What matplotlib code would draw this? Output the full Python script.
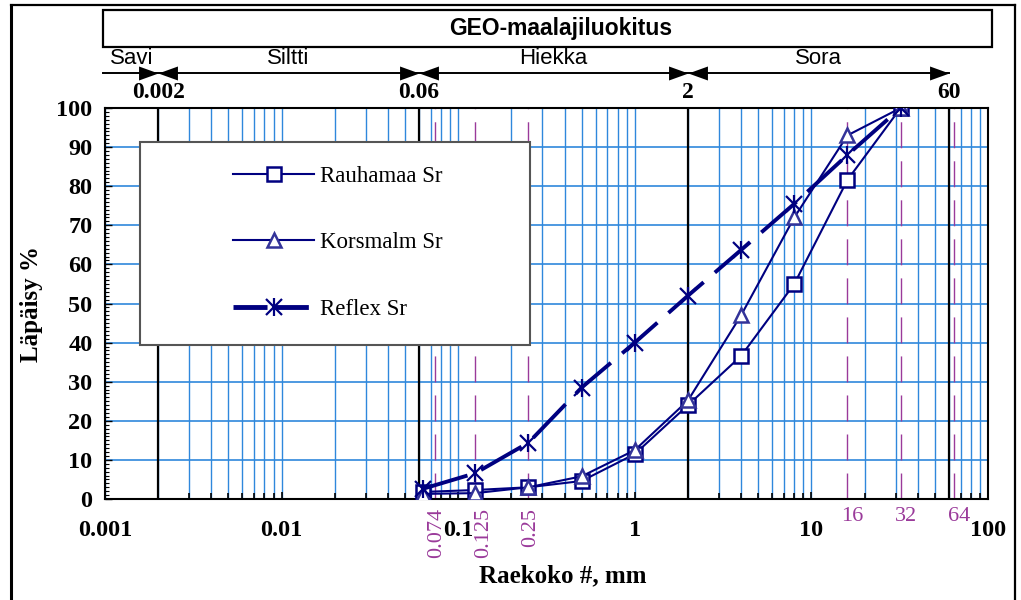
import matplotlib
matplotlib.use('Agg')
import matplotlib.pyplot as plt
from matplotlib.ticker import FixedLocator, NullFormatter, MultipleLocator, LogLocator
from matplotlib.lines import Line2D
from matplotlib.patches import Rectangle
from matplotlib.legend_handler import HandlerTuple
from matplotlib.transforms import ScaledTranslation
import numpy as np

# ---------------- data ----------------
sizes = [0.063, 0.125, 0.25, 0.5, 1, 2, 4, 8, 16, 32]
rauhamaa = [1.8, 2.3, 3.0, 4.6, 11.5, 24.0, 36.6, 55.0, 81.6, 100]
korsmalm = [1.3, 1.5, 3.0, 5.8, 12.5, 25.2, 47.0, 72.0, 93.0, 100]
reflex = [2.6, 6.6, 14.4, 28.5, 40.0, 52.0, 63.7, 75.5, 88.0, 100]
series_names = ['Rauhamaa Sr', 'Korsmalm Sr', 'Reflex Sr']

class_bounds = [0.002, 0.06, 2, 60]
class_names = ['Savi', 'Siltti', 'Hiekka', 'Sora']
sieve_marks = [0.074, 0.125, 0.25, 16, 32, 64]
sieve_labels = ['0.074', '0.125', '0.25', '16', '32', '64']
x_ticks = [0.001, 0.01, 0.1, 1, 10, 100]
x_ticklabels = ['0.001', '0.01', '0.1', '1', '10', '100']
y_ticks = list(range(0, 101, 10))

title = 'GEO-maalajiluokitus'
xlabel = 'Raekoko #, mm'
ylabel = 'Läpäisy %'

# ---------------- style ----------------
plt.rcParams['font.family'] = ['Liberation Serif', 'DejaVu Serif']
NAVY = '#000080'
TRI = '#333399'
GRID = '#2f88dc'
PURPLE = '#9a3a9a'
W, H = 1021, 600
TICKFS = 17.5

fig = plt.figure(figsize=(W / 100, H / 100), dpi=100)
ax = fig.add_axes([105 / W, 1 - 499 / H, (988 - 105) / W, (499 - 108) / H])

ax.set_xscale('log')
ax.set_xlim(0.001, 100)
ax.set_ylim(0, 100)

ax.xaxis.set_major_locator(FixedLocator(x_ticks))
ax.xaxis.set_minor_locator(LogLocator(base=10, subs=np.arange(2, 10), numticks=20))
ax.xaxis.set_minor_formatter(NullFormatter())
ax.set_xticks(x_ticks)
ax.set_xticklabels(x_ticklabels)
ax.set_yticks(y_ticks)
ax.set_yticklabels([str(v) for v in y_ticks])
ax.yaxis.set_minor_locator(MultipleLocator(1))

ax.tick_params(axis='x', which='both', direction='in', pad=15, colors='black',
               labelsize=TICKFS)
ax.tick_params(axis='x', which='major', length=5, width=1.2)
ax.tick_params(axis='x', which='minor', length=4, width=1.2)
ax.tick_params(axis='y', which='major', direction='in', length=5, width=1, pad=9,
               labelsize=TICKFS)
ax.tick_params(axis='y', which='minor', direction='in', length=3, width=0.8)
for lab in ax.get_xticklabels() + ax.get_yticklabels():
    lab.set_fontweight('bold')
for s in ax.spines.values():
    s.set_linewidth(1.5)
    s.set_color('black')

ax.set_axisbelow(True)
ax.grid(True, which='both', axis='x', color=GRID, lw=1.0)
ax.grid(True, which='major', axis='y', color=GRID, lw=1.2)

# class boundary lines
for b in class_bounds:
    ax.axvline(b, color='black', lw=1.6, zorder=1.5)
# sieve marks
for m in sieve_marks:
    ax.axvline(m, color=PURPLE, lw=1.0, dashes=(18.7, 9.4), zorder=1.6)

# sieve labels (purple)
tr = ax.get_xaxis_transform()
for m, lab in zip(sieve_marks, sieve_labels):
    if m < 1:
        dx = 8 if lab == '0.125' else 2
        t = tr + ScaledTranslation(dx / 100, 0, fig.dpi_scale_trans)
        ax.text(m, -0.023, lab, transform=t, rotation=90,
                ha='center', va='top', fontsize=16, color=PURPLE, clip_on=False)
    else:
        t = tr + ScaledTranslation(5 / 100, 0, fig.dpi_scale_trans)
        ax.text(m, -0.02, lab, transform=t,
                ha='center', va='top', fontsize=16, color=PURPLE, clip_on=False)

# data series
ax.plot(sizes, rauhamaa, color=NAVY, lw=1.5, marker='s', ms=10, mfc='white',
        mec=NAVY, mew=1.8, zorder=3)
ax.plot(sizes, korsmalm, color=NAVY, lw=1.5, marker='^', ms=10.5, mfc='white',
        mec=TRI, mew=1.8, zorder=3)
ax.plot(sizes, reflex, color=NAVY, lw=2.8, dashes=(12, 3.8), dashes_offset=0,
        zorder=3.2, solid_capstyle='butt', dash_capstyle='butt') if False else \
    ax.plot(sizes, reflex, color=NAVY, lw=2.8, dashes=(12, 3.8), zorder=3.2,
            solid_capstyle='butt', dash_capstyle='butt')
ax.plot(sizes, reflex, ls='none', marker='x', ms=11, mec=NAVY, mew=1.6, zorder=3.3)
ax.plot(sizes, reflex, ls='none', marker='|', ms=13, mec=NAVY, mew=1.6, zorder=3.3)

# axis labels
ax.set_xlabel(xlabel, fontsize=18, fontweight='bold', va='top')
ax.xaxis.set_label_coords((563 - 105) / 883, -(564 - 499) / 391)
ax.set_ylabel(ylabel, fontsize=18, fontweight='bold', va='center')
ax.yaxis.set_label_coords((32 - 105) / 883, 0.5)

# legend
h1 = Line2D([], [], color=NAVY, lw=1.5, marker='s', ms=10, mfc='white', mec=NAVY, mew=1.8)
h2 = Line2D([], [], color=NAVY, lw=1.5, marker='^', ms=10.5, mfc='white', mec=TRI, mew=1.8)
h3a = Line2D([], [], color=NAVY, lw=3.5, dashes=(7, 1.5))
h3b = Line2D([], [], ls='none', marker='x', ms=11, mec=NAVY, mew=1.6)
h3c = Line2D([], [], ls='none', marker='|', ms=13, mec=NAVY, mew=1.6)
frame = Rectangle((140 / W, 1 - 345 / H), 390 / W, 203 / H, transform=fig.transFigure,
                  facecolor='white', edgecolor='#555555', lw=1.5, zorder=4, clip_on=False)
ax.add_patch(frame)
leg = ax.legend([h1, h2, (h3a, h3b, h3c)], series_names,
                handler_map={tuple: HandlerTuple(ndivide=1)},
                loc='upper left', bbox_to_anchor=(233 / W, 1 - 166 / H),
                bbox_transform=fig.transFigure, frameon=False, fontsize=16.5,
                borderpad=0, borderaxespad=0, handlelength=3.55, handletextpad=0.26,
                labelspacing=1.98)
leg.set_zorder(5)

# title box
fig.patches.append(Rectangle((103 / W, 1 - 47 / H), 889 / W, 37 / H, transform=fig.transFigure,
                             facecolor='white', edgecolor='black', lw=1.6))
fig.text(561 / W, 1 - 29 / H, title, ha='center', va='center', fontsize=16.5,
         fontweight='bold', family=['Liberation Sans', 'DejaVu Sans'])

# classification arrows row
y_arrow = (499 - 73) / 391
ax.plot([0.00097, class_bounds[-1]], [y_arrow, y_arrow], color='black', lw=1.4,
        transform=tr, clip_on=False)
right_head = [(0, 0), (-1, 0.36), (-1, -0.36), (0, 0)]
left_head = [(0, 0), (1, 0.36), (1, -0.36), (0, 0)]
for i, b in enumerate(class_bounds):
    ax.plot([b], [y_arrow], marker=right_head, ms=28, color='black', mew=0,
            transform=tr, clip_on=False)
    if i < len(class_bounds) - 1:
        ax.plot([b], [y_arrow], marker=left_head, ms=28, color='black', mew=0,
                transform=tr, clip_on=False)
    ax.text(b, (499 - 93) / 391, str(b) if b != int(b) else str(int(b)),
            transform=tr, ha='center', va='center', fontsize=17, fontweight='bold',
            clip_on=False)
lefts = [0.001] + class_bounds[:-1]
for lo, hi, name in zip(lefts, class_bounds, class_names):
    xc = np.sqrt(lo * hi)
    ax.text(xc, (499 - 58) / 391, name, transform=tr, ha='center', va='center',
            fontsize=16, family=['Liberation Sans', 'DejaVu Sans'], clip_on=False)

# outer border (left, top, right)
fig.lines.append(Line2D([10.5 / W, 10.5 / W], [0, 1 - 5 / H], transform=fig.transFigure,
                        color='black', lw=2.2))
fig.lines.append(Line2D([10.5 / W, 1015 / W], [1 - 5 / H, 1 - 5 / H], transform=fig.transFigure,
                        color='black', lw=1.6))
fig.lines.append(Line2D([1015 / W, 1015 / W], [0, 1 - 5 / H], transform=fig.transFigure,
                        color='black', lw=1.6))

fig.savefig('out.png', dpi=100)
